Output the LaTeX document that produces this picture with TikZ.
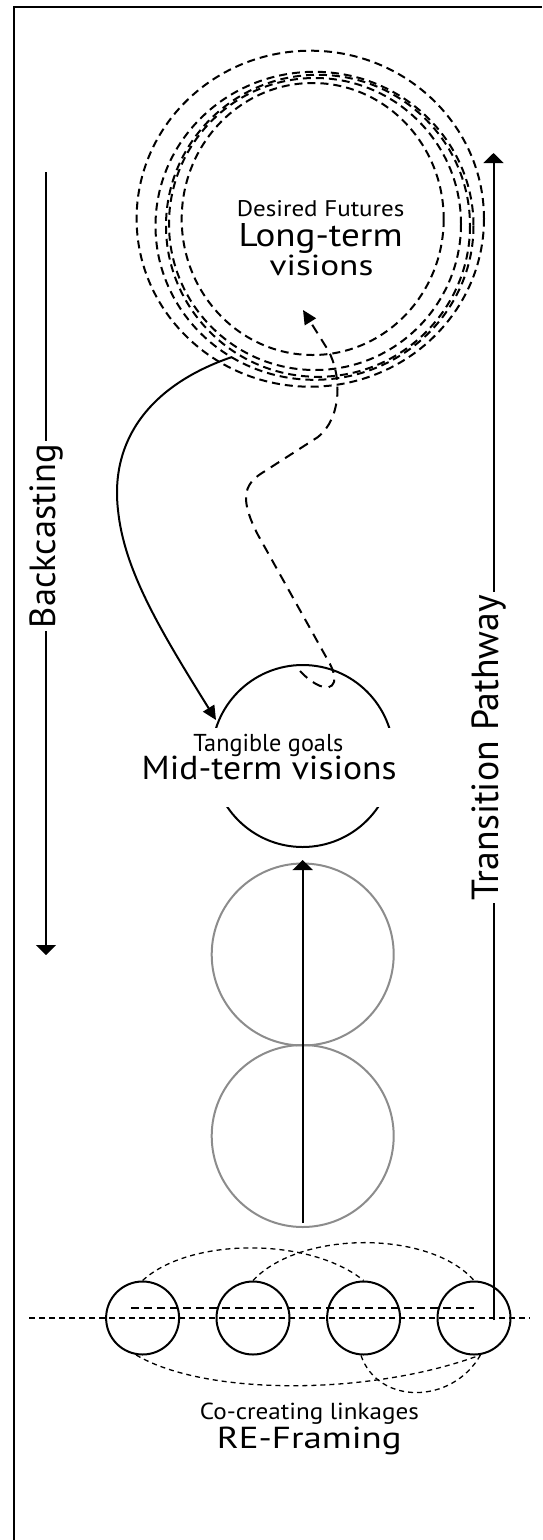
\documentclass[tikz,border=0pt]{standalone}
\usepackage{graphicx}
\usepackage{fontspec}
\setmainfont{PT Sans}
\usetikzlibrary{arrows.meta}
\definecolor{circgray}{RGB}{140,140,140}
\newcommand\fitw[2]{\resizebox{#1pt}{!}{#2}}
\newcommand\fitwh[3]{\resizebox{#1pt}{#2pt}{#3}}
\begin{document}
\begin{tikzpicture}[x=1pt,y=-1pt,
  thickline/.style={line width=2pt},
  framel/.style={line width=2.5pt},
  dcirc/.style={line width=2pt, dash pattern=on 8pt off 5pt},
  sdash/.style={line width=2pt, dash pattern=on 10pt off 7pt},
  thindash/.style={line width=1.3pt, dash pattern=on 5pt off 4pt},
  hdash/.style={line width=1.4pt, dash pattern=on 6pt off 4pt},
  hdashb/.style={line width=1.9pt, dash pattern=on 8pt off 5pt},
  bigarrow/.style={line width=2pt,-{Triangle[width=20pt,length=10pt]}},
  smallarrow/.style={-{Triangle[width=13pt,length=14pt]}},
  graycirc/.style={circle, draw=circgray, line width=2pt, minimum size=182pt, inner sep=0pt},
  smallcirc/.style={circle, draw, line width=2pt, minimum size=73pt, inner sep=0pt},
  lbl/.style={inner sep=0pt, anchor=base},
  sidelbl/.style={rotate=90, inner sep=3pt},
]
\useasboundingbox (0,0) rectangle (542,1540);

% frame
\coordinate (fBL) at (14,1540);
\coordinate (fTL) at (14,7);
\coordinate (fTR) at (542,7);
\draw[framel] (fBL) -- (fTL) -- (fTR);

% long-term dashed circles
\draw[dcirc] (310.3,218.7) ellipse [x radius=173.7, y radius=168];
\draw[dcirc] (314.5,225.8) ellipse [x radius=159, y radius=154];
\draw[dcirc] (318,225.8) ellipse [x radius=152, y radius=151];
\draw[dcirc] (315,224) ellipse [x radius=146, y radius=146];
\draw[dcirc] (312.7,219) ellipse [x radius=131, y radius=136];

\node[lbl] (df) at (320.6,216) {\fitwh{167.6}{16}{Desired Futures}};
\node[lbl] (lt) at (320.6,246) {\fitwh{164}{23}{Long-term}};
\node[lbl] (vs) at (321.5,275) {\fitwh{103.7}{20.5}{visions}};

% mid-term circle (broken by its text)
\coordinate (mid) at (302.7,756);
\begin{scope}
  \clip (150,600) rectangle (450,727);
  \draw[thickline] (mid) circle [radius=91];
\end{scope}
\begin{scope}
  \clip (150,807) rectangle (450,900);
  \draw[thickline] (mid) circle [radius=91];
\end{scope}
\node[lbl] (tg) at (268.3,751) {\fitwh{150}{17.3}{Tangible goals}};
\node[lbl] (mt) at (269.2,779.3) {\fitwh{255}{23.5}{Mid-term visions}};

% gray circles
\node[graycirc] (g1) at (302.7,954.5) {};
\node[graycirc] (g2) at (302.7,1136) {};

% vertical arrow
\coordinate (vBot) at (302.7,1223);
\coordinate (vTop) at (302.7,860);
\draw[bigarrow] (vBot) -- (vTop);

% solid curved arrow
\coordinate (cStart) at (232,357);
\coordinate (cEnd) at (216,720);
\draw[thickline, smallarrow] (cStart) .. controls (150,385) and (110,440) .. (118,510)
  .. controls (124,570) and (160,630) .. (cEnd);

% dashed S path
\coordinate (sStart) at (300,671);
\coordinate (sEnd) at (303,310);
\draw[sdash, smallarrow] (sStart) .. controls (312,684) and (330,694) .. (334,682)
  .. controls (335,675) and (333,670) .. (330,664) -- (258,535)
  .. controls (240,500) and (243,485) .. (262,473) -- (318,437)
  .. controls (342,418) and (342,375) .. (328,350) -- (sEnd);

% Backcasting
\node[sidelbl] (bc) at (46,536) {\fitw{184}{Backcasting}};
\coordinate (bcTop) at (46,172);
\coordinate (bcBot) at (46,955);
\draw[thickline] (bcTop) -- (bcTop |- bc.east);
\draw[bigarrow] (bcBot |- bc.west) -- (bcBot);

% Transition Pathway
\node[sidelbl] (tp) at (489,747.5) {\fitw{305}{Transition Pathway}};
\coordinate (tpTop) at (493.5,153);
\coordinate (tpBot) at (493.5,1320);
\draw[thickline] (tpBot) -- (tpBot |- tp.west);
\draw[bigarrow] (tpTop |- tp.east) -- (tpTop);

% bottom row
\coordinate (hl) at (29,1318);
\coordinate (hr) at (530,1318);
\draw[hdash] (hl) -- (hr);
\coordinate (ul) at (131,1307.7);
\coordinate (ur) at (474,1307.7);
\draw[hdashb] (ul) -- (ur);
\node[smallcirc] (s1) at (142.6,1318) {};
\node[smallcirc] (s2) at (253,1318) {};
\node[smallcirc] (s3) at (363.6,1318) {};
\node[smallcirc] (s4) at (474,1318) {};
\draw[thindash] (s1.north) .. controls (190,1237) and (310,1237) .. (s3.north);
\draw[thindash] (s2.north) .. controls (300,1230) and (430,1230) .. (s4.north);
\draw[thindash] (s1.260) .. controls (205,1396) and (370,1396) .. (s4.280);
\draw[thindash] (s3.266) .. controls (378,1405) and (452,1405) .. (s4.280);

\node[lbl] (cc) at (309.4,1419.3) {\fitwh{219}{16.5}{Co-creating linkages}};
\node[lbl] (rf) at (309.3,1448.3) {\fitwh{184.6}{21.5}{RE-Framing}};
\end{tikzpicture}
\end{document}
